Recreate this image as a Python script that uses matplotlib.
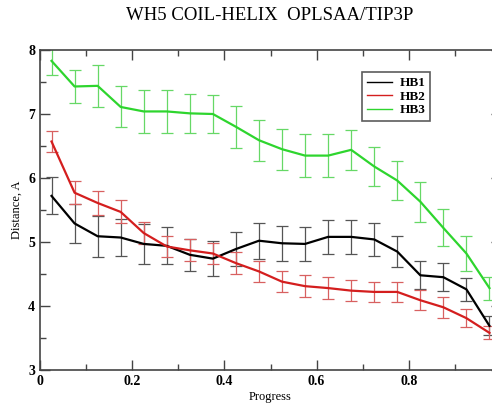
import matplotlib
matplotlib.use('Agg')
import matplotlib.pyplot as plt
from matplotlib.lines import Line2D
from matplotlib.ticker import MultipleLocator

plt.rcParams['font.family'] = ['Liberation Serif', 'DejaVu Serif']

# progress points (bin centres)
progress = [0.025, 0.075, 0.125, 0.175, 0.225, 0.275, 0.325, 0.375, 0.425, 0.475,
            0.525, 0.575, 0.625, 0.675, 0.725, 0.775, 0.825, 0.875, 0.925, 0.975]

hb1 = [5.72, 5.29, 5.09, 5.07, 4.97, 4.94, 4.80, 4.74, 4.89, 5.02,
       4.98, 4.97, 5.08, 5.08, 5.04, 4.85, 4.48, 4.45, 4.26, 3.69]
hb1_err = [0.29, 0.30, 0.32, 0.29, 0.31, 0.29, 0.25, 0.27, 0.27, 0.28,
           0.27, 0.26, 0.27, 0.26, 0.26, 0.24, 0.22, 0.22, 0.18, 0.15]

hb2 = [6.57, 5.77, 5.61, 5.47, 5.14, 4.93, 4.87, 4.82, 4.67, 4.54,
       4.38, 4.31, 4.28, 4.24, 4.22, 4.22, 4.09, 3.98, 3.81, 3.58]
hb2_err = [0.16, 0.18, 0.19, 0.18, 0.17, 0.17, 0.17, 0.17, 0.17, 0.17,
           0.16, 0.17, 0.17, 0.16, 0.16, 0.16, 0.16, 0.16, 0.14, 0.10]

hb3 = [7.83, 7.43, 7.44, 7.11, 7.04, 7.04, 7.01, 7.00, 6.80, 6.59,
       6.45, 6.35, 6.35, 6.44, 6.18, 5.96, 5.63, 5.22, 4.82, 4.28]
hb3_err = [0.22, 0.26, 0.33, 0.32, 0.33, 0.33, 0.31, 0.30, 0.33, 0.32,
           0.32, 0.33, 0.33, 0.31, 0.31, 0.30, 0.31, 0.29, 0.28, 0.18]

series = [('HB1', hb1, hb1_err, 'black', '#555555'),
          ('HB2', hb2, hb2_err, '#d41e1e', '#d86060'),
          ('HB3', hb3, hb3_err, '#2ed52e', '#66d866')]

fig = plt.figure(figsize=(4.92, 4.03), dpi=100)
# right edge of the plot runs just past the picture, as in the original
ax = fig.add_axes([40 / 492, 33 / 403, 461 / 492, 320 / 403])

handles = []
for name, vals, errs, col, ecol in series:
    ax.errorbar(progress, vals, yerr=errs, color=col, ecolor=ecol, lw=1.6,
                elinewidth=0.9, capsize=4, capthick=0.9)
    handles.append(Line2D([], [], color=col, lw=1.0, label=name))

ax.set_xlim(0, 1)
ax.set_ylim(3, 8)
ax.xaxis.set_minor_locator(MultipleLocator(0.1))
ax.yaxis.set_major_locator(MultipleLocator(1))
ax.yaxis.set_minor_locator(MultipleLocator(0.5))
ax.set_xticks([0, 0.2, 0.4, 0.6, 0.8, 1.0])
ax.set_xticklabels(['0', '0.2', '0.4', '0.6', '0.8', ''])
ax.tick_params(which='both', direction='in', top=True, right=True,
               labelsize=10, width=1, colors='#444444', labelcolor='black')
ax.tick_params(which='major', length=7)
ax.tick_params(which='minor', length=4)
for lab in ax.get_xticklabels() + ax.get_yticklabels():
    lab.set_fontweight('bold')
for sp in ax.spines.values():
    sp.set_color('#444444')
    sp.set_linewidth(1.2)

ax.set_xlabel('Progress', fontsize=9, labelpad=2)
ax.set_ylabel('Distance, A', fontsize=9, labelpad=4)
fig.text(270 / 492, 1 - 16 / 403, 'WH5 COIL-HELIX  OPLSAA/TIP3P',
         ha='center', va='center', fontsize=13.5)

leg = ax.legend(handles=handles, loc='upper left', bbox_to_anchor=(0.699, 0.93),
                fontsize=9.5, frameon=True, fancybox=False, edgecolor='#333333',
                handlelength=1.9, borderpad=0.35, labelspacing=0.1,
                handletextpad=0.6, borderaxespad=0)
leg.get_frame().set_linewidth(1.2)
for t in leg.get_texts():
    t.set_fontweight('bold')

fig.savefig('out.png', dpi=100)
